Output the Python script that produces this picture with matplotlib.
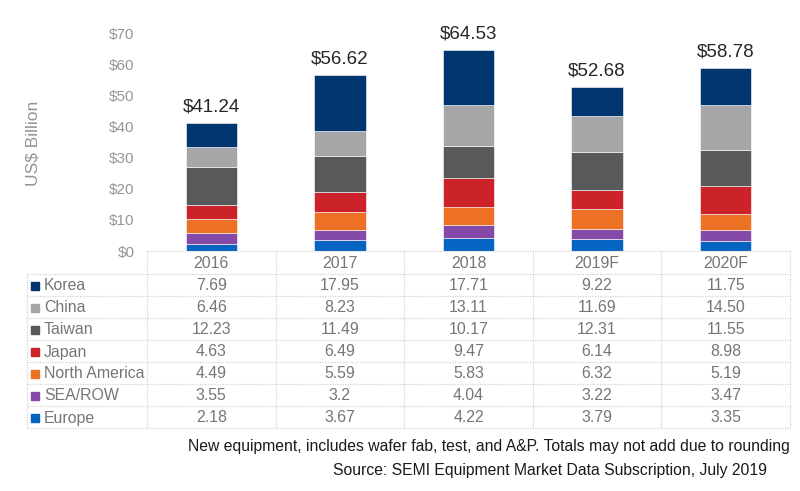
import numpy as np
import matplotlib.pyplot as plt
from matplotlib.patches import Rectangle

plt.rcParams['font.family'] = ['Liberation Sans', 'DejaVu Sans']

# data
years = ["2016", "2017", "2018", "2019F", "2020F"]
regions = ["Korea", "China", "Taiwan", "Japan", "North America", "SEA/ROW", "Europe"]
korea = [7.69, 17.95, 17.71, 9.22, 11.75]
china = [6.46, 8.23, 13.11, 11.69, 14.50]
taiwan = [12.23, 11.49, 10.17, 12.31, 11.55]
japan = [4.63, 6.49, 9.47, 6.14, 8.98]
north_america = [4.49, 5.59, 5.83, 6.32, 5.19]
sea_row = [3.55, 3.2, 4.04, 3.22, 3.47]
europe = [2.18, 3.67, 4.22, 3.79, 3.35]
totals = [41.24, 56.62, 64.53, 52.68, 58.78]
table_text = [
    ["7.69", "17.95", "17.71", "9.22", "11.75"],
    ["6.46", "8.23", "13.11", "11.69", "14.50"],
    ["12.23", "11.49", "10.17", "12.31", "11.55"],
    ["4.63", "6.49", "9.47", "6.14", "8.98"],
    ["4.49", "5.59", "5.83", "6.32", "5.19"],
    ["3.55", "3.2", "4.04", "3.22", "3.47"],
    ["2.18", "3.67", "4.22", "3.79", "3.35"],
]

colors = {
    "Korea": "#013570", "China": "#a6a6a8", "Taiwan": "#58595b",
    "Japan": "#cc2229", "North America": "#ec7125", "SEA/ROW": "#8549a8",
    "Europe": "#0563c1",
}
series = {"Korea": korea, "China": china, "Taiwan": taiwan, "Japan": japan,
          "North America": north_america, "SEA/ROW": sea_row, "Europe": europe}

W, H = 800, 491
fig = plt.figure(figsize=(8, 4.91), dpi=100)

# bar chart area (pixel layout)
x0, x1, ytop, ybot = 147, 790, 33, 251
ax = fig.add_axes([x0 / W, 1 - ybot / H, (x1 - x0) / W, (ybot - ytop) / H])
x = np.arange(len(years))
bottom = np.zeros(len(years))
for name in reversed(regions):
    vals = np.array(series[name])
    ax.bar(x, vals, 0.4, bottom=bottom, color=colors[name], edgecolor="white",
           linewidth=0.4, zorder=3)
    bottom += vals
for xi, t in zip(x, totals):
    ax.text(xi, t + 2.3, f"${t:.2f}", ha="center", va="bottom", fontsize=13.5,
            color="#262626")
ax.set_xlim(-0.5, len(years) - 0.5)
ax.set_ylim(0, 70)
ax.set_yticks(range(0, 71, 10))
ax.set_yticklabels([f"${v}" for v in range(0, 71, 10)])
ax.set_xticks([])
ax.tick_params(axis="y", length=0, pad=9, labelsize=11, labelcolor="#959595")
for s in ax.spines.values():
    s.set_visible(False)
ax.set_facecolor("none")
fig.text(33 / W, 1 - 143 / H, "US$ Billion", rotation=90, ha="center", va="center",
         fontsize=12.5, color="#959595")

# data table drawn in pixel coordinates
tab = fig.add_axes([0, 0, 1, 1])
tab.set_xlim(0, W)
tab.set_ylim(H, 0)
tab.axis("off")
tab.patch.set_alpha(0)

lx = 27
row_h = 22
header_top, header_bot = 251, 274
col_w = (x1 - x0) / len(years)
grid_kw = dict(color="#d4d4d4", linewidth=0.9, linestyle=(0, (1, 1)))
table_bot = header_bot + row_h * len(regions)

# horizontal lines
tab.plot([x0, x1], [header_top, header_top], **grid_kw)
for i in range(len(regions) + 1):
    yy = header_bot + i * row_h
    tab.plot([lx, x1], [yy, yy], **grid_kw)
# vertical lines
tab.plot([lx, lx], [header_bot, table_bot], **grid_kw)
for j in range(len(years) + 1):
    xx = x0 + j * col_w
    tab.plot([xx, xx], [header_top, table_bot], **grid_kw)

txt_color = "#767676"
for j, yr in enumerate(years):
    tab.text(x0 + (j + 0.5) * col_w, (header_top + header_bot) / 2 + 1, yr,
             ha="center", va="center", fontsize=11.4, color=txt_color)
for i, name in enumerate(regions):
    yc = header_bot + (i + 0.5) * row_h + 1
    tab.add_patch(Rectangle((lx + 4, yc - 4.5), 8, 8, color=colors[name]))
    tab.text(lx + 17, yc, name, ha="left", va="center", fontsize=11.4, color=txt_color)
    for j in range(len(years)):
        tab.text(x0 + (j + 0.5) * col_w, yc, table_text[i][j], ha="center",
                 va="center", fontsize=11.4, color=txt_color)

tab.text(790, 447, "New equipment, includes wafer fab, test, and A&P. Totals may not add due to rounding",
         ha="right", va="center", fontsize=11.3, color="#1a1a1a")
tab.text(767, 470, "Source: SEMI Equipment Market Data Subscription, July 2019",
         ha="right", va="center", fontsize=11.3, color="#1a1a1a")

fig.savefig("out.png", dpi=100)
